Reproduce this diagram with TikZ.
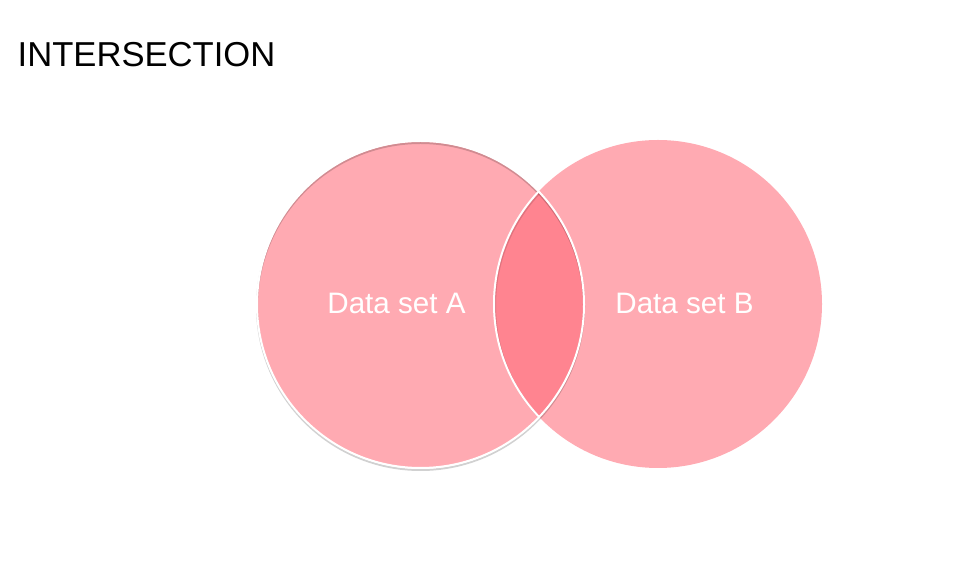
\documentclass[tikz,border=0pt]{standalone}
\usepackage{fontspec}
\setmainfont{Liberation Sans}
\usepackage{tikz}

\definecolor{setpink}{RGB}{255,170,178}
\definecolor{lenspink}{RGB}{255,132,144}

\begin{document}
\begin{tikzpicture}[x=1pt,y=1pt]
	\useasboundingbox (0,0) rectangle (968,564);
	\coordinate (A) at (420.5,259.5);
	\coordinate (B) at (658,260);
	
	% the two sets
	\fill[setpink] (B) circle (164);
	\fill[setpink] (A) circle (163.5);
	
	% intersection
	\begin{scope}
		\clip (A) circle (163.5);
		\fill[lenspink] (B) circle (164);
	\end{scope}
	
	% shadow and white rims
	\draw[black,opacity=0.18,line width=2pt] ([yshift=-2]A) circle (163.5);
	\begin{scope}
		\clip (A) circle (163.5);
		\draw[black,opacity=0.12,line width=2pt] ([yshift=-1.5,xshift=1]B) circle (164);
		\draw[white,line width=2pt] (B) circle (164);
	\end{scope}
	\draw[white,line width=2pt] (A) circle (163.5);
	
	\node[anchor=base west,inner sep=0,font=\fontsize{34.6}{40}\selectfont] (title) at (17.5,497) {INTERSECTION};
	\node[inner sep=0,white,font=\fontsize{29.6}{34}\selectfont] (labelA) at (396.5,261) {Data set A};
	\node[inner sep=0,white,font=\fontsize{29.6}{34}\selectfont] (labelB) at (684.5,261) {Data set B};
	
\end{tikzpicture}
\end{document}
